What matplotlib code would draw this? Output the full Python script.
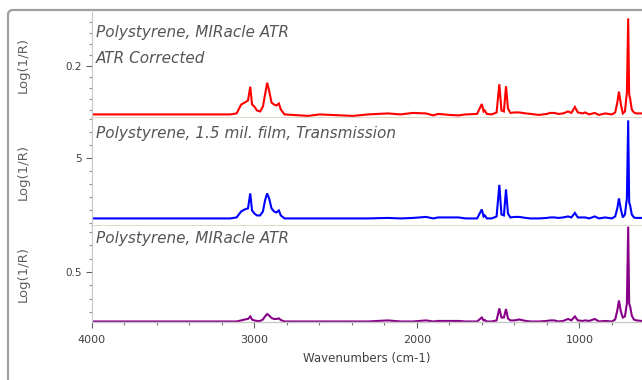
import numpy as np
import matplotlib
matplotlib.use('Agg')
import matplotlib.pyplot as plt
import matplotlib.ticker as mticker
from matplotlib.patches import FancyBboxPatch
from matplotlib.transforms import IdentityTransform

# ---------------------------------------------------------------
# spectra (shared wavenumber grid, cm-1)
wavenumber = [4000, 3900, 3700, 3500, 3300, 3150, 3110, 3082, 3060, 3040,
              3026, 3015, 3001, 2985, 2965, 2948, 2935, 2922, 2910, 2895,
              2880, 2865, 2850, 2838, 2815, 2670, 2600, 2394, 2300, 2180,
              2100, 2025, 1944, 1900, 1870, 1800, 1745, 1700, 1630, 1601,
              1590, 1583, 1570, 1540, 1510, 1493, 1480, 1465, 1452, 1440,
              1425, 1400, 1370, 1330, 1300, 1250, 1200, 1181, 1155, 1130,
              1100, 1070, 1050, 1028, 1010, 980, 965, 940, 906, 880,
              842, 800, 780, 767, 757, 745, 733, 720, 708, 700,
              694, 688, 678, 665, 650, 615]

atr_corrected = [0.112, 0.112, 0.112, 0.112, 0.112, 0.112, 0.1138, 0.130, 0.1336, 0.1372,
                 0.1624, 0.130, 0.1264, 0.1192, 0.1174, 0.1264, 0.148, 0.1696, 0.1552, 0.1336,
                 0.130, 0.1282, 0.1318, 0.121, 0.112, 0.1093, 0.112, 0.1093, 0.112, 0.1138,
                 0.112, 0.1147, 0.1138, 0.1102, 0.1129, 0.1111, 0.1102, 0.112, 0.1129, 0.1309,
                 0.1174, 0.1192, 0.1129, 0.112, 0.1156, 0.1669, 0.1192, 0.1174, 0.1633, 0.1228,
                 0.1147, 0.1156, 0.1156, 0.1138, 0.1129, 0.1111, 0.1129, 0.1147, 0.1147, 0.1129,
                 0.1138, 0.1174, 0.1147, 0.1255, 0.1156, 0.1138, 0.1156, 0.112, 0.1147, 0.1111,
                 0.1138, 0.112, 0.1156, 0.1336, 0.1534, 0.130, 0.1138, 0.1174, 0.1516, 0.2866,
                 0.148, 0.1408, 0.121, 0.1156, 0.1138, 0.1138]

transmission = [0.35, 0.35, 0.35, 0.35, 0.35, 0.35, 0.427, 0.889, 1.043, 1.12,
                2.275, 0.966, 0.735, 0.581, 0.581, 0.889, 1.736, 2.275, 1.89, 1.12,
                0.889, 0.812, 0.966, 0.581, 0.35, 0.35, 0.35, 0.35, 0.35, 0.389,
                0.35, 0.389, 0.466, 0.35, 0.427, 0.427, 0.427, 0.35, 0.35, 1.043,
                0.504, 0.581, 0.35, 0.35, 0.504, 2.93, 0.658, 0.581, 2.583, 0.735,
                0.427, 0.466, 0.466, 0.389, 0.35, 0.35, 0.389, 0.427, 0.427, 0.389,
                0.427, 0.504, 0.427, 0.774, 0.427, 0.427, 0.427, 0.35, 0.504, 0.35,
                0.427, 0.35, 0.504, 1.12, 1.89, 1.043, 0.427, 0.658, 1.89, 7.896,
                1.582, 1.351, 0.658, 0.427, 0.389, 0.389]

atr_raw = [0.128, 0.128, 0.128, 0.128, 0.128, 0.128, 0.128, 0.136, 0.143, 0.147,
           0.166, 0.143, 0.136, 0.132, 0.132, 0.143, 0.166, 0.184, 0.173, 0.154,
           0.147, 0.147, 0.151, 0.139, 0.128, 0.128, 0.128, 0.128, 0.128, 0.136,
           0.128, 0.128, 0.136, 0.128, 0.132, 0.132, 0.132, 0.128, 0.128, 0.158,
           0.136, 0.139, 0.128, 0.128, 0.136, 0.226, 0.158, 0.158, 0.222, 0.151,
           0.136, 0.136, 0.143, 0.132, 0.128, 0.128, 0.132, 0.136, 0.136, 0.128,
           0.132, 0.147, 0.136, 0.166, 0.136, 0.132, 0.136, 0.132, 0.147, 0.128,
           0.132, 0.128, 0.143, 0.211, 0.286, 0.203, 0.158, 0.166, 0.263, 0.841,
           0.263, 0.241, 0.173, 0.143, 0.136, 0.132]

titles = [['Polystyrene, MIRacle ATR', 'ATR Corrected'],
          ['Polystyrene, 1.5 mil. film, Transmission'],
          ['Polystyrene, MIRacle ATR']]
colors = ['#ff0000', '#0000ff', '#880088']
major_y = [[0.2], [5], [0.5]]
minor_y = [0.02, 1, 0.1]
ylims = [(0.1055, 0.2982), (-0.231, 8.077), (0.124, 0.846)]

# ---------------------------------------------------------------
fig = plt.figure(figsize=(6.42, 3.8), dpi=100)
fig.patch.set_facecolor('white')

# outer window frame (rounded top-left corner)
frame = FancyBboxPatch((8, -20), 700, 390, boxstyle='round,pad=0,rounding_size=5',
                       transform=IdentityTransform(), fc='none', ec='#a0a0a0', lw=1.6)
fig.patches.append(frame)

# panel positions (figure fraction)
boxes = [[0.1433, 0.6895, 0.8567, 0.2789],
         [0.1433, 0.4053, 0.8567, 0.2842],
         [0.1433, 0.1526, 0.8567, 0.2526]]
series = [atr_corrected, transmission, atr_raw]

axes = []
for i in range(3):
    ax = fig.add_axes(boxes[i])
    ax.plot(wavenumber, series[i], color=colors[i], lw=1.5, solid_joinstyle='miter')
    ax.set_xlim(4000, 615)
    ax.set_ylim(*ylims[i])

    for s in ['top', 'right']:
        ax.spines[s].set_visible(False)
    ax.spines['left'].set_color('#c8c8c8')
    ax.spines['bottom'].set_color('#ddd9cb')
    ax.spines['bottom'].set_linewidth(1.5)

    ax.yaxis.set_major_locator(mticker.FixedLocator(major_y[i]))
    ax.yaxis.set_minor_locator(mticker.MultipleLocator(minor_y[i]))
    ax.tick_params(axis='y', which='major', length=4, width=0.8, colors='#606060',
                   labelsize=7.5, labelcolor='#404040', pad=3)
    ax.tick_params(axis='y', which='minor', length=2.5, width=0.8, colors='#909090')
    ax.set_ylabel('Log(1/R)', fontsize=9.5, color='#606060')
    ax.yaxis.set_label_coords(-0.1127, 0.5)

    if i < 2:
        ax.tick_params(axis='x', which='both', bottom=False, labelbottom=False)
    # sample labels
    ty = [[0.811, 0.566], [0.852], [0.875]][i]
    for t, yy in zip(titles[i], ty):
        ax.text(0.007, yy, t, transform=ax.transAxes, fontsize=11, style='italic',
                color='#555555', va='center', ha='left')
    axes.append(ax)

ax = axes[2]
ax.spines['bottom'].set_color('#c8c8c8')
ax.spines['bottom'].set_linewidth(1.0)
ax.xaxis.set_major_locator(mticker.FixedLocator([4000, 3000, 2000, 1000]))
ax.xaxis.set_minor_locator(mticker.MultipleLocator(200))
ax.tick_params(axis='x', which='major', length=4, width=0.8, colors='#606060',
               labelsize=8, labelcolor='#404040', pad=5)
ax.tick_params(axis='x', which='minor', length=2.5, width=0.8, colors='#707070')
ax.set_xlabel('Wavenumbers (cm-1)', fontsize=8.5, color='#404040')
ax.xaxis.set_label_coords(0.5, -0.31)

fig.savefig('out.png', dpi=100)
